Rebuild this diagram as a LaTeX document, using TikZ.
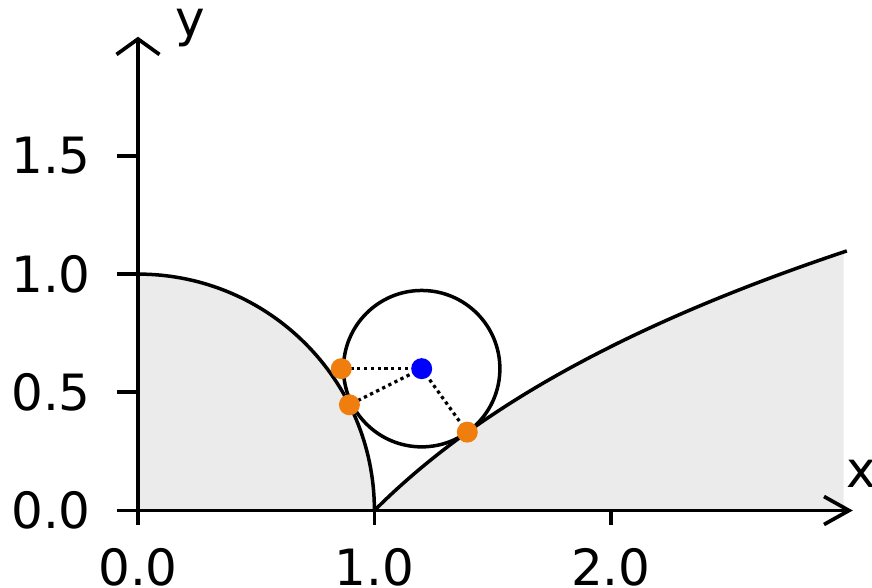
\documentclass[tikz,border=0pt]{standalone}
\usepackage{fontspec}
\setmainfont{DejaVu Sans}
\definecolor{fillgray}{RGB}{235,235,235}
\definecolor{dotorange}{RGB}{240,126,14}
\definecolor{dotblue}{RGB}{0,0,255}
\begin{document}
\begin{tikzpicture}[x=236.4pt,y=236.4pt,
  lbl/.style={inner sep=0pt, font=\fontsize{50}{60}\selectfont},
  curve/.style={line width=3.5pt, black},
  axisline/.style={line width=3.7pt, black},
  dotline/.style={line width=3.2pt, black, dash pattern=on 3.3pt off 3.5pt},
  dotmark/.style={circle, inner sep=0pt, minimum size=21pt}]
\useasboundingbox (-138pt,-76.5pt) rectangle (734pt,510.5pt);
% shaded regions
\fill[fillgray] (0,0) -- (0,1) arc[start angle=90,end angle=0,radius=236.4pt] -- cycle;
\fill[fillgray] (1,0) -- plot[domain=1:2.985,samples=120] (\x,{ln(\x)}) -- (2.985,0) -- cycle;
% curves
\draw[curve] (0,1) arc[start angle=90,end angle=0,radius=236.4pt];
\draw[curve] plot[domain=1:3,samples=150] (\x,{ln(\x)});
% axes
\coordinate (o) at (0,0);
\coordinate (xtip) at (711pt,0);
\coordinate (ytip) at (0,471.5pt);
\draw[axisline] (o) -- (xtip);
\draw[axisline] (o) -- (ytip);
\draw[axisline] (686pt,14pt) -- (xtip) -- (686pt,-14pt);
\draw[axisline] (-21.5pt,456pt) -- (ytip) -- (21.5pt,456pt);
% ticks
\foreach \v/\t [count=\i] in {0/0.0,0.5/0.5,1/1.0,1.5/1.5}{
  \draw[axisline] (-21pt,\v) -- (0,\v);
  \node[lbl, anchor=east] (ylab\i) at (-47pt,\v) {\t};
}
\foreach \v/\t [count=\i] in {0/0.0,1/1.0,2/2.0}{
  \draw[axisline] (\v,0) -- (\v,-14pt);
  \node[lbl, anchor=north] (xlab\i) at (\v,-37.5pt) {\t};
}
\node[lbl, anchor=base west] (xname) at (708pt,23.5pt) {x};
\node[lbl, anchor=base west] (yname) at (37pt,473.5pt) {y};
% circle and points
\coordinate (c) at (1.2,0.6);
\coordinate (p1) at (0.86,0.6);
\coordinate (p2) at (0.8944,0.4472);
\coordinate (p3) at (1.393,0.3315);
\draw[curve] (c) circle[radius=78.2pt];
\draw[dotline] (c) -- (p1);
\draw[dotline] (c) -- (p2);
\draw[dotline] (c) -- (p3);
\node[dotmark, fill=dotorange] (d1) at (p1) {};
\node[dotmark, fill=dotorange] (d2) at (p2) {};
\node[dotmark, fill=dotorange] (d3) at (p3) {};
\node[dotmark, fill=dotblue] (dc) at (c) {};
\end{tikzpicture}
\end{document}
